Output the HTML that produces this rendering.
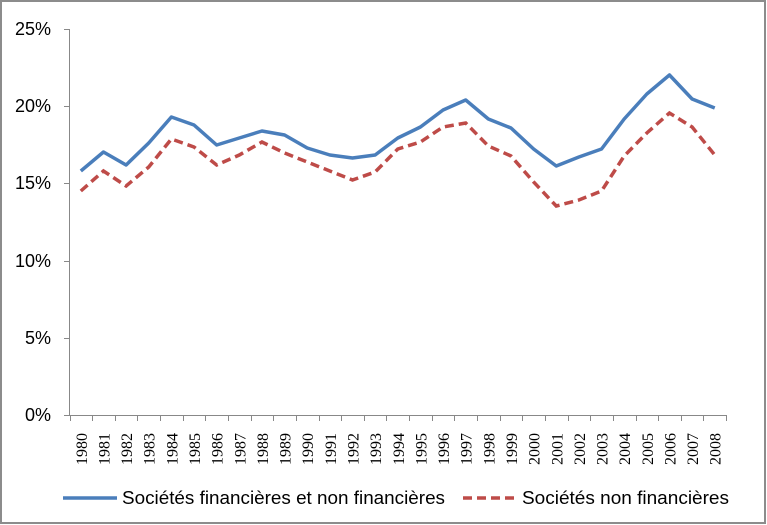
<!DOCTYPE html>
<html><head><meta charset="utf-8"><style>
body{margin:0;background:#fff}
svg{display:block}
</style></head><body>
<svg width="767" height="525" viewBox="0 0 767 525" xmlns="http://www.w3.org/2000/svg">
<rect x="1" y="1" width="764" height="522" fill="#fff" stroke="#8c8c8c" stroke-width="2"/>
<g stroke="#888" stroke-width="1" fill="none">
<line x1="69.5" y1="29" x2="69.5" y2="415"/>
<line x1="69.5" y1="415.5" x2="727" y2="415.5"/>
<line x1="64" y1="29.5" x2="69.5" y2="29.5"/>
<line x1="64" y1="106.5" x2="69.5" y2="106.5"/>
<line x1="64" y1="183.5" x2="69.5" y2="183.5"/>
<line x1="64" y1="261.5" x2="69.5" y2="261.5"/>
<line x1="64" y1="338.5" x2="69.5" y2="338.5"/>
<line x1="64" y1="415.5" x2="69.5" y2="415.5"/>
</g>
<g id="ticks" stroke="#888" stroke-width="1"></g>
<g font-family="Liberation Sans, sans-serif" font-size="18" fill="#000" text-anchor="end">
<text x="51" y="35">25%</text>
<text x="51" y="112">20%</text>
<text x="51" y="189">15%</text>
<text x="51" y="267">10%</text>
<text x="51" y="344">5%</text>
<text x="51" y="421">0%</text>
</g>
<g id="years" font-family="Liberation Serif, serif" font-size="16" fill="#000"></g>
<polyline id="blue" fill="none" stroke="#4a7ebb" stroke-width="3.5" stroke-linejoin="round"/>
<polyline id="red" fill="none" stroke="#be4b48" stroke-width="3.5" stroke-dasharray="9,5"/>
<line x1="63" y1="498" x2="117" y2="498" stroke="#4a7ebb" stroke-width="3.5"/>
<line x1="463" y1="498" x2="517" y2="498" stroke="#be4b48" stroke-width="3.5" stroke-dasharray="9,5"/>
<g font-family="Liberation Sans, sans-serif" font-size="18" fill="#000">
<text x="122" y="504" textLength="323" lengthAdjust="spacingAndGlyphs">Sociétés financières et non financières</text>
<text x="522" y="504" textLength="207" lengthAdjust="spacingAndGlyphs">Sociétés non financières</text>
</g>
</svg>
<script>
var b=[171,152,165,143,117,125,145,138,131,135,148,155,158,155,138,127,110,100,119,128,149,166,157,149,119,94,75,99,108];
var r=[191,171,186,167,139,147,165,155,142,153,162,171,180,172,149,142,127,123,146,156,182,206,200,191,156,133,113,127,155];
var w=22.64,x0=69.5,ns="http://www.w3.org/2000/svg";
var pb=[],pr=[];
for(var i=0;i<29;i++){var x=x0+w*(i+0.5);pb.push(x+","+b[i]);pr.push(x+","+r[i]);
var t=document.createElementNS(ns,"text");t.setAttribute("transform","translate("+(x+6)+",465) rotate(-90)");t.textContent=1980+i;document.getElementById("years").appendChild(t);}
for(var i=0;i<=29;i++){var l=document.createElementNS(ns,"line");var x=Math.round(x0+w*i)+0.5;l.setAttribute("x1",x);l.setAttribute("x2",x);l.setAttribute("y1",415);l.setAttribute("y2",421);document.getElementById("ticks").appendChild(l);}
document.getElementById("blue").setAttribute("points",pb.join(" "));
document.getElementById("red").setAttribute("points",pr.join(" "));
</script>
</body></html>
